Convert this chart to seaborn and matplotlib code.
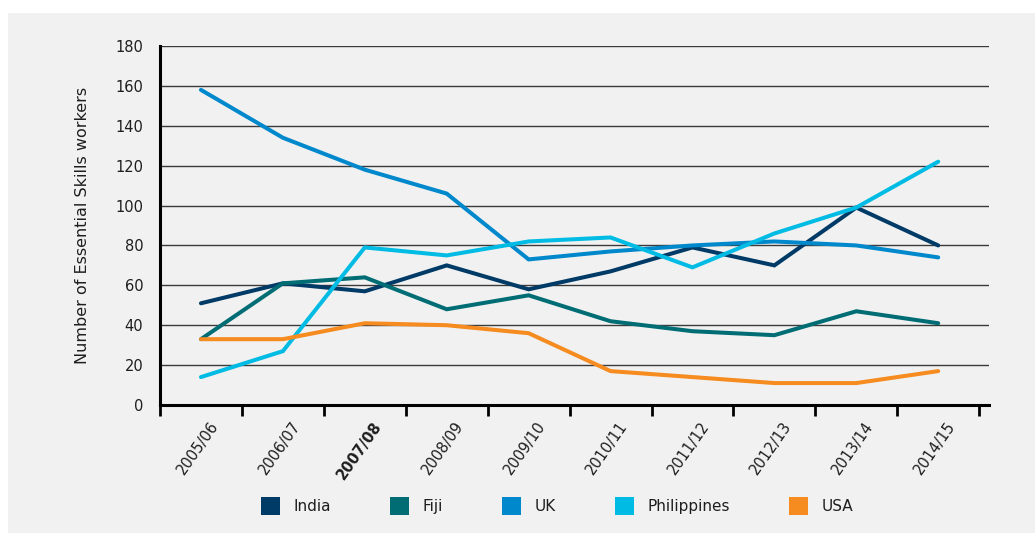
import numpy as np
import matplotlib
matplotlib.use("Agg")
import matplotlib.pyplot as plt
from matplotlib.patches import Rectangle, Patch
from matplotlib.transforms import ScaledTranslation
import pandas as pd
import seaborn as sns

# Data
years = ["2005/06", "2006/07", "2007/08", "2008/09", "2009/10",
         "2010/11", "2011/12", "2012/13", "2013/14", "2014/15"]
india = [51, 61, 57, 70, 58, 67, 79, 70, 99, 80]
fiji = [33, 61, 64, 48, 55, 42, 37, 35, 47, 41]
uk = [158, 134, 118, 106, 73, 77, 80, 82, 80, 74]
philippines = [14, 27, 79, 75, 82, 84, 69, 86, 99, 122]
usa = [33, 33, 41, 40, 36, 17, 14, 11, 11, 17]

countries = ["India", "Fiji", "UK", "Philippines", "USA"]
colors = ["#003A66", "#006D75", "#0088CC", "#00BCE4", "#F68B1F"]

df = pd.DataFrame({"Year": years, "India": india, "Fiji": fiji, "UK": uk,
                   "Philippines": philippines, "USA": usa})
long_df = df.melt(id_vars="Year", var_name="Country", value_name="Workers")

sns.set_style("white")
plt.rcParams["font.family"] = ["DejaVu Sans"]
bg = "#F1F1F1"
txt = "#1E1E1E"

fig = plt.figure(figsize=(10.35, 5.33), dpi=100)
fig.patch.set_facecolor("white")
fig.patches.append(Rectangle((8 / 1035, 0), 1 - 8 / 1035, 520 / 533,
                             transform=fig.transFigure, facecolor=bg,
                             edgecolor="none", zorder=-10))
ax = fig.add_axes([160 / 1035, 1 - 405 / 533, (989 - 160) / 1035, (405 - 46) / 533])
ax.set_facecolor(bg)

sns.lineplot(data=long_df, x="Year", y="Workers", hue="Country",
             palette=dict(zip(countries, colors)), linewidth=2.9,
             ax=ax, legend=False, zorder=3)
for ln in ax.lines:
    ln.set_solid_capstyle("round")
    ln.set_solid_joinstyle("miter")

ax.set_ylim(0, 180)
ax.set_xlim(-0.5, 9.62)
ax.set_yticks(np.arange(0, 181, 20))
ax.yaxis.grid(True, color="#3A3A3A", linewidth=1.0)
ax.set_axisbelow(True)
ax.tick_params(axis="y", length=0, pad=12, labelsize=10.5, labelcolor=txt)

# boundaries as major ticks, labels on minor ticks at category centres
ax.set_xticks(np.arange(-0.5, 10, 1.0))
ax.set_xticklabels([])
ax.set_xticks(np.arange(10), minor=True)
ax.set_xticklabels(years, minor=True, rotation=55, ha="right", va="center",
                   rotation_mode="anchor", fontsize=10.5, color=txt)
ax.tick_params(axis="x", which="major", bottom=True, length=8, width=2,
               color="black", direction="out")
ax.tick_params(axis="x", which="minor", bottom=True, length=0, pad=13)
offset = ScaledTranslation(0.14, 0, fig.dpi_scale_trans)
for lab in ax.get_xticklabels(minor=True):
    lab.set_transform(lab.get_transform() + offset)
    if lab.get_text() == "2007/08":
        lab.set_fontweight("bold")

for s in ["top", "right"]:
    ax.spines[s].set_visible(False)
for s in ["left", "bottom"]:
    ax.spines[s].set_color("black")
    ax.spines[s].set_linewidth(2.2)

ax.set_xlabel("")
ax.set_ylabel("Number of Essential Skills workers", fontsize=11.5, color=txt, labelpad=18)

handles = [Patch(facecolor=c, edgecolor="none") for c in colors]
fig.legend(handles, countries, loc="center", bbox_to_anchor=(557 / 1035, 1 - 506 / 533),
           ncol=5, frameon=False, fontsize=11, handlelength=1.25, handleheight=1.4,
           handletextpad=0.85, columnspacing=3.9, labelcolor=txt)

fig.savefig("out.png", dpi=100, facecolor="white")
